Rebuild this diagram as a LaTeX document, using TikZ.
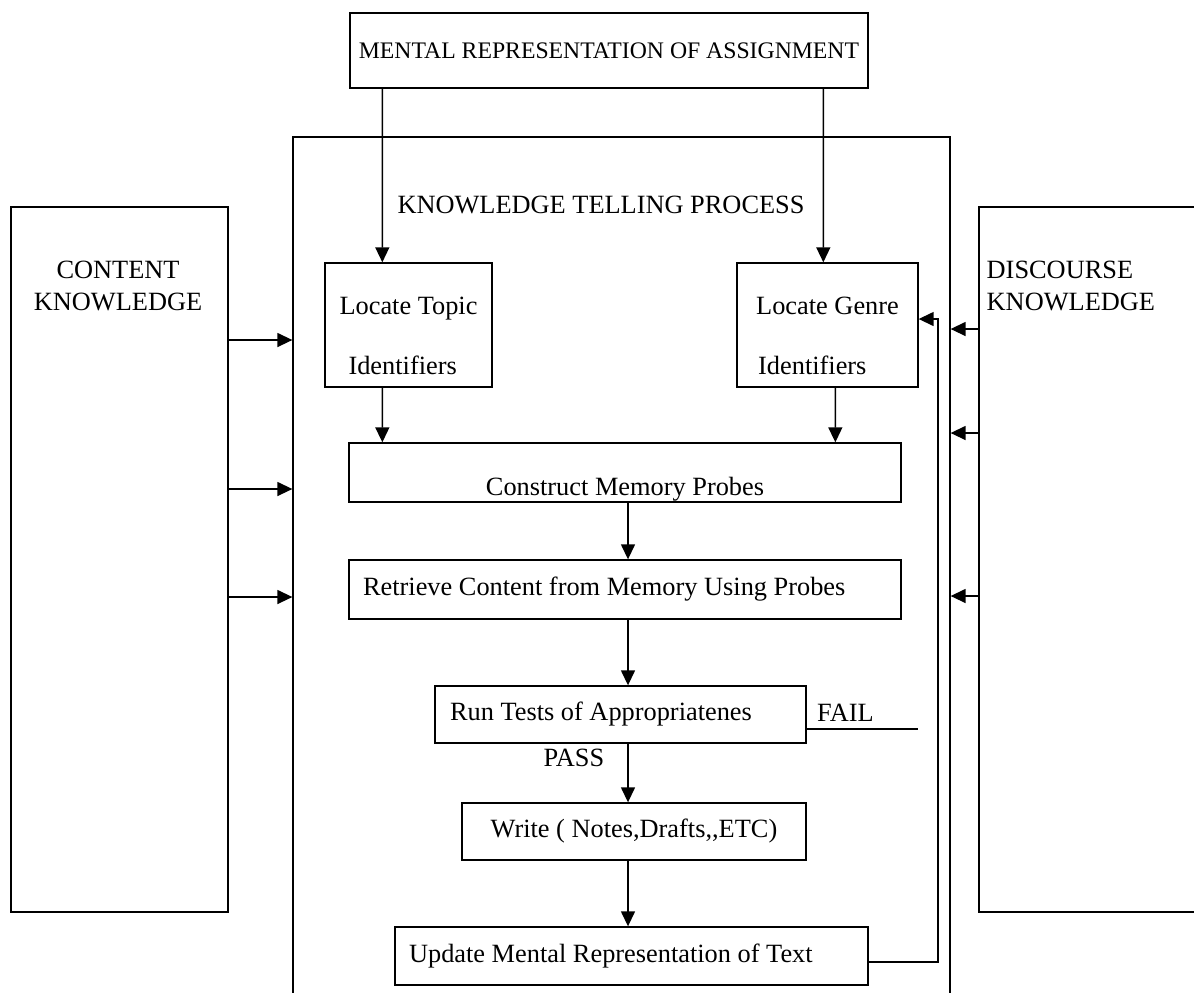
\documentclass[tikz,border=0pt]{standalone}
\usepackage{fontspec}
\setmainfont{Liberation Serif}
\usetikzlibrary{arrows.meta,calc}

\begin{document}
\begin{tikzpicture}[x=0.02cm, y=-0.02cm, line width=0.8pt,
    font=\fontsize{15}{18}\selectfont,
    box/.style={draw, rectangle, inner sep=0pt},
    lbox/.style={box, align=flush left, inner xsep=0.28cm},
    txt/.style={inner sep=0pt},
    arr/.style={-{Triangle[length=0.3cm, width=0.28cm]}}]
    \useasboundingbox (0,0) rectangle (1194,992);

    \node [box, minimum width=10.36cm, minimum height=1.5cm, font=\fontsize{13.5}{16}\selectfont] (mra) at (609,50.5) {MENTAL REPRESENTATION OF ASSIGNMENT};
    \node [box, minimum width=13.14cm, minimum height=17.46cm] (process) at (621.5,573.5) {};
    \node [txt] (ktp) at (601,205) {KNOWLEDGE TELLING PROCESS};

    \node [box, minimum width=4.34cm, minimum height=14.1cm] (content) at (119.5,559.5) {};
    \node [txt, align=center] (contentlbl) at (118,286) {CONTENT\\KNOWLEDGE};
    \node [box, minimum width=4.62cm, minimum height=14.1cm] (discourse) at (1094.5,559.5) {};
    \node [txt, align=flush left, anchor=west] (discourselbl) at (986,286) {DISCOURSE\\KNOWLEDGE};

    \node [box, align=flush left, minimum width=3.34cm, minimum height=2.48cm] (topic) at (408.5,325) {\rule{0pt}{22pt}Locate Topic\\[16pt]\hspace{0.18cm}Identifiers};
    \node [box, align=flush left, minimum width=3.62cm, minimum height=2.48cm] (genre) at (827.5,325) {\rule{0pt}{22pt}Locate Genre\\[16pt]\hspace{0.04cm}Identifiers};

    \node [box, minimum width=11.04cm, text height=1.04cm, text depth=0.14cm] (construct) at (625,472.5) {Construct Memory Probes};
    \node [lbox, text width=10.48cm, minimum height=1.18cm] (retrieve) at (625,589.5) {Retrieve Content from Memory Using Probes};
    \node [lbox, inner xsep=0.3cm, text width=6.82cm, minimum height=1.14cm] (run) at (620.5,714.5) {Run Tests of Appropriatenes};
    \node [box, minimum width=6.88cm, minimum height=1.14cm] (write) at (634,831.5) {Write ( Notes,Drafts,{},ETC)};
    \node [lbox, text width=8.9cm, minimum height=1.16cm] (update) at (631.5,956) {Update Mental Representation of Text};

    \node [txt] (fail) at (845.5,713) {FAIL};
    \node [txt] (pass) at (574,758) {PASS};

    \coordinate (spine) at (628,0);
    \coordinate (failend) at (918,729);
    \coordinate (fb) at (938,319);

    \draw [arr] ($(mra.south west)+(33,0)$) -- ($(topic.north west)+(58,0)$);
    \draw [arr] ($(mra.south west)+(474,0)$) -- ($(genre.north west)+(87,0)$);
    \draw [arr] ($(topic.south west)+(58,0)$) -- ($(construct.north west)+(34,0)$);
    \draw [arr] ($(genre.south west)+(99,0)$) -- ($(construct.north west)+(487,0)$);

    \foreach \a/\b in {construct/retrieve, retrieve/run, run/write, write/update}
      \draw [arr] (\a.south -| spine) -- (\b.north -| spine);

    \foreach \y in {340,489,597}{
      \path (0,\y) coordinate (h);
      \draw [arr] (content.east |- h) -- (process.west |- h);
    }
    \foreach \y in {329,433,596}{
      \path (0,\y) coordinate (h);
      \draw [arr] (discourse.west |- h) -- (process.east |- h);
    }

    \draw (run.east |- failend) -- (failend);
    \draw [arr] ([yshift=-0.12cm]update.east) -| (fb) -- (genre.east |- fb);
\end{tikzpicture}
\end{document}
